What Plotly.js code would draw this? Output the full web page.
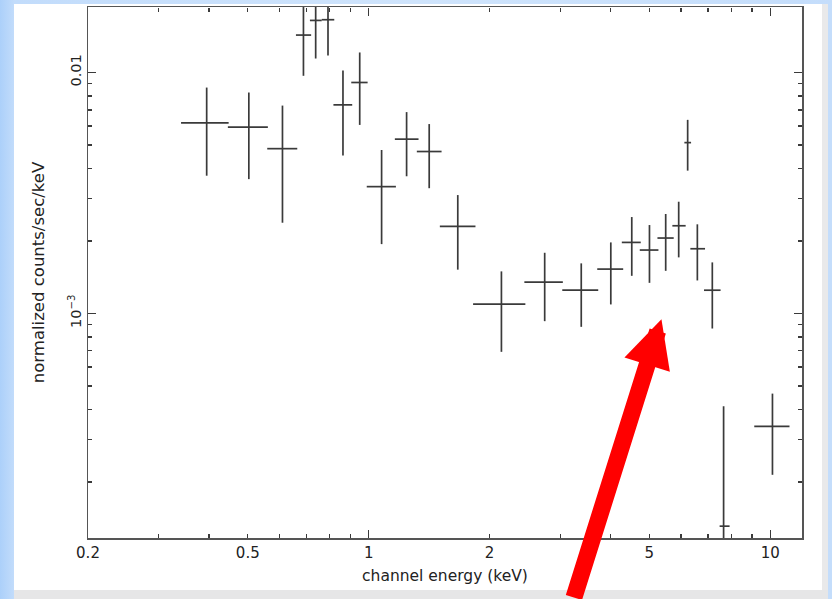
<!DOCTYPE html>
<html>
<head>
<meta charset="utf-8">
<script src="https://cdn.plot.ly/plotly-3.0.1.min.js"></script>
<style>
  html, body { margin:0; padding:0; width:832px; height:599px; overflow:hidden; }
  body { background: linear-gradient(to right, #acd0fa 0px, #c2dcfb 14px, #cfe4fc 50%, #c4ddfb 100%); position:relative; }
  #panel { position:absolute; left:14px; top:4px; width:808px; height:586px; background:#ffffff; }
  #rstrip { position:absolute; left:822px; top:4px; width:6px; height:595px; background:#e9e9ea; }
  #bstrip { position:absolute; left:14px; top:590px; width:814px; height:9px; background:#e6e6e7; }
  #chart { position:absolute; left:0; top:0; width:832px; height:599px; }
</style>
</head>
<body>
<div id="panel"></div><div id="rstrip"></div><div id="bstrip"></div>
<div id="chart"></div>
<script>
// Channel energy bins (keV): centre, lower and upper edge
const energy   = [0.395, 0.503, 0.610, 0.688, 0.738, 0.792, 0.863, 0.950, 1.077, 1.243, 1.415, 1.667, 2.141, 2.744, 3.384, 4.009, 4.521, 5.004, 5.492, 5.917, 6.229, 6.585, 7.175, 7.655, 10.13];
const energyLo = [0.341, 0.446, 0.559, 0.659, 0.714, 0.764, 0.817, 0.905, 0.989, 1.162, 1.318, 1.504, 1.820, 2.442, 3.035, 3.709, 4.270, 4.733, 5.238, 5.706, 6.113, 6.326, 6.842, 7.482, 9.126];
const energyHi = [0.448, 0.561, 0.664, 0.719, 0.764, 0.821, 0.910, 0.994, 1.169, 1.331, 1.519, 1.845, 2.456, 3.045, 3.730, 4.304, 4.760, 5.268, 5.750, 6.158, 6.352, 6.882, 7.524, 7.922, 11.17];
// normalized counts/sec/keV: value, lower and upper end of error bar
const flux   = [0.00618, 0.00593, 0.00483, 0.0143, 0.01645, 0.01656, 0.00734, 0.00909, 0.00336, 0.00529, 0.00470, 0.00230, 0.001093, 0.001349, 0.001249, 0.001528, 0.001972, 0.001833, 0.002056, 0.002312, 0.005117, 0.001856, 0.001249, 0.000131, 0.000340];
const fluxLo = [0.00373, 0.00361, 0.00238, 0.00969, 0.01143, 0.01177, 0.00452, 0.00606, 0.00194, 0.00371, 0.00331, 0.00152, 0.000693, 0.000929, 0.000880, 0.001090, 0.001433, 0.001340, 0.001503, 0.001709, 0.003915, 0.001371, 0.000866, -0.00015, 0.000214];
const fluxHi = [0.00866, 0.00826, 0.00729, 0.0189, 0.0215, 0.0213, 0.01019, 0.01211, 0.00477, 0.00685, 0.00611, 0.00310, 0.001495, 0.001786, 0.001614, 0.001972, 0.002513, 0.002328, 0.002587, 0.002909, 0.006361, 0.002344, 0.001629, 0.000412, 0.000465];

// Axis ticks
const xLabelVals = [0.2, 0.5, 1, 2, 5, 10];
const xLabelText = ['0.2', '0.5', '1', '2', '5', '10'];
const xMajorVals = [1, 10];
const xMinorVals = [0.3, 0.4, 0.6, 0.7, 0.8, 0.9, 3, 4, 6, 7, 8, 9];
const xTopMinorVals = [0.2, 0.3, 0.4, 0.5, 0.6, 0.7, 0.8, 0.9, 2, 3, 4, 5, 6, 7, 8, 9];
const yMajorVals = [0.001, 0.01];
const yMajorText = ['10<sup>\u22123</sup>', '0.01'];
const yMinorVals = [2e-4, 3e-4, 4e-4, 5e-4, 6e-4, 7e-4, 8e-4, 9e-4, 2e-3, 3e-3, 4e-3, 5e-3, 6e-3, 7e-3, 8e-3, 9e-3];

const xRange = [Math.log10(0.2), Math.log10(12)];
const yRange = [Math.log10(1.17e-4), Math.log10(0.0187)];

const ink = '#3a3a3a';
const fontFam = 'DejaVu Sans, Verdana, sans-serif';

const minorStyle = { ticks: 'inside', ticklen: 4, tickwidth: 1.4, tickcolor: ink, showgrid: false };
const bare = { showgrid: false, zeroline: false, showline: false, showticklabels: false, autorange: false };

const data = [{
  type: 'scatter', mode: 'markers',
  x: energy, y: flux,
  marker: { size: 0, opacity: 0 },
  error_x: { type: 'data', symmetric: false,
    array: energyHi.map((v, i) => v - energy[i]),
    arrayminus: energy.map((v, i) => v - energyLo[i]),
    width: 0, thickness: 1.7, color: ink },
  error_y: { type: 'data', symmetric: false,
    array: fluxHi.map((v, i) => v - flux[i]),
    arrayminus: flux.map((v, i) => v - fluxLo[i]),
    width: 0, thickness: 1.7, color: ink },
  hoverinfo: 'skip', showlegend: false
},
{ type: 'scatter', mode: 'markers', x: [1], y: [0.001], xaxis: 'x2', marker: { size: 0, opacity: 0 }, hoverinfo: 'skip', showlegend: false },
{ type: 'scatter', mode: 'markers', x: [1], y: [0.001], xaxis: 'x3', marker: { size: 0, opacity: 0 }, hoverinfo: 'skip', showlegend: false },
{ type: 'scatter', mode: 'markers', x: [1], y: [0.001], xaxis: 'x4', marker: { size: 0, opacity: 0 }, hoverinfo: 'skip', showlegend: false },
{ type: 'scatter', mode: 'markers', x: [1], y: [0.001], yaxis: 'y2', marker: { size: 0, opacity: 0 }, hoverinfo: 'skip', showlegend: false }
];

const layout = {
  width: 832, height: 599,
  margin: { l: 88, r: 30, t: 7, b: 61 },
  paper_bgcolor: 'rgba(0,0,0,0)', plot_bgcolor: '#ffffff',
  font: { family: fontFam, size: 14, color: '#222' },
  showlegend: false,
  xaxis: {
    type: 'log', range: xRange, autorange: false,
    tickmode: 'array', tickvals: xLabelVals, ticktext: xLabelText,
    ticks: 'inside', ticklen: 4, tickwidth: 1.4, tickcolor: ink,
    minor: Object.assign({ tickmode: 'array', tickvals: xMinorVals }, minorStyle),
    showline: true, linecolor: '#555', linewidth: 1.5, mirror: true,
    showgrid: false, zeroline: false,
    tickfont: { size: 15, color: '#222' },
    title: { text: 'channel energy (keV)', font: { size: 15.5, color: '#222' }, standoff: 9 }
  },
  xaxis2: Object.assign({}, bare, {
    type: 'log', range: xRange, overlaying: 'x', anchor: 'y', side: 'bottom',
    tickmode: 'array', tickvals: xMajorVals,
    ticks: 'inside', ticklen: 8, tickwidth: 1.4, tickcolor: ink
  }),
  xaxis3: Object.assign({}, bare, {
    type: 'log', range: xRange, overlaying: 'x', anchor: 'free', position: 1, side: 'top',
    tickmode: 'array', tickvals: xMajorVals,
    ticks: 'inside', ticklen: 8, tickwidth: 1.4, tickcolor: ink
  }),
  xaxis4: Object.assign({}, bare, {
    type: 'log', range: xRange, overlaying: 'x', anchor: 'free', position: 1, side: 'top',
    tickmode: 'array', tickvals: xTopMinorVals,
    ticks: 'inside', ticklen: 4, tickwidth: 1.4, tickcolor: ink
  }),
  yaxis: {
    type: 'log', range: yRange, autorange: false,
    tickmode: 'array', tickvals: yMajorVals, ticktext: yMajorText, tickangle: -90,
    ticks: 'inside', ticklen: 8, tickwidth: 1.4, tickcolor: ink,
    minor: Object.assign({ tickmode: 'array', tickvals: yMinorVals }, minorStyle),
    showline: true, linecolor: '#555', linewidth: 1.5, mirror: true,
    showgrid: false, zeroline: false,
    tickfont: { size: 14.5, color: '#222' },
    title: { text: 'normalized counts/sec/keV', font: { size: 16.5, color: '#222' }, standoff: 17 }
  },
  yaxis2: Object.assign({}, bare, {
    type: 'log', range: yRange, overlaying: 'y', anchor: 'x', side: 'right',
    tickmode: 'array', tickvals: yMajorVals,
    ticks: 'inside', ticklen: 8, tickwidth: 1.4, tickcolor: ink,
    minor: Object.assign({ tickmode: 'array', tickvals: yMinorVals }, minorStyle)
  }),
  annotations: [{
    xref: 'x', yref: 'y',
    x: Math.log10(5.36), y: Math.log10(9.47e-4),
    text: '', showarrow: true,
    ax: -88, ay: 300, axref: 'pixel', ayref: 'pixel',
    arrowhead: 2, arrowsize: 0.56, arrowwidth: 17, arrowcolor: '#ff0000', standoff: 0
  }]
};

Plotly.newPlot('chart', data, layout, { staticPlot: true, displayModeBar: false });
</script>
</body>
</html>
